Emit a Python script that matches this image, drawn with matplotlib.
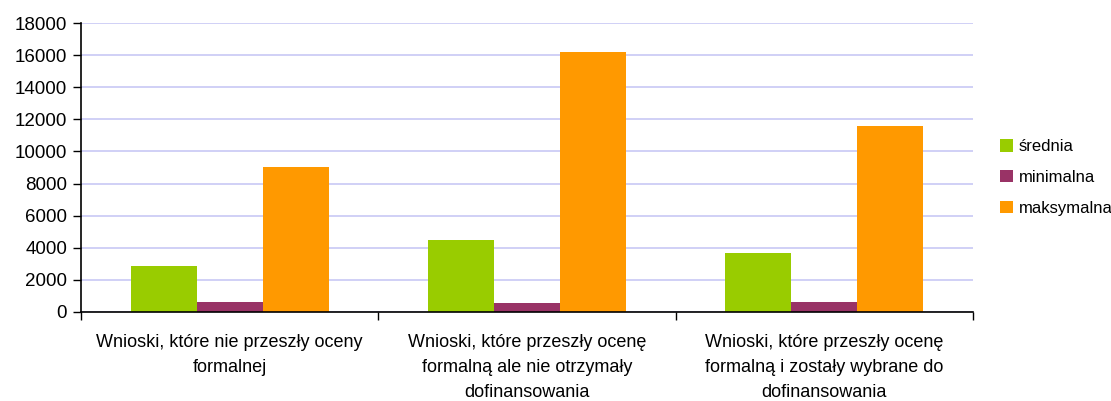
import numpy as np
import matplotlib
matplotlib.use("Agg")
import matplotlib.pyplot as plt

plt.rcParams['font.family'] = ['Liberation Sans', 'DejaVu Sans']

categories = [
    "Wnioski, które nie przeszły oceny\nformalnej",
    "Wnioski, które przeszły ocenę\nformalną ale nie otrzymały\ndofinansowania",
    "Wnioski, które przeszły ocenę\nformalną i zostały wybrane do\ndofinansowania",
]
series_names = ["średnia", "minimalna", "maksymalna"]
srednia = [2860, 4480, 3680]
minimalna = [620, 560, 620]
maksymalna = [9030, 16200, 11590]
colors = ["#99cc00", "#993366", "#ff9900"]

fig = plt.figure(figsize=(11.11, 4.01), dpi=100)
ax = fig.add_axes([0.0729, 0.222, 0.8029, 0.7206])

x = np.arange(len(categories))
w = 0.222
for i, (vals, name, c) in enumerate(zip([srednia, minimalna, maksymalna], series_names, colors)):
    ax.bar(x + (i - 1) * w, vals, width=w, color=c, label=name, zorder=2)

ax.set_xlim(-0.5, len(categories) - 0.5)
ax.set_ylim(0, 18000)
ax.set_yticks(np.arange(0, 18001, 2000))
ax.yaxis.grid(True, color="#d0d0f6", linewidth=1.4, zorder=0)
ax.set_axisbelow(True)

ax.set_xticks(x)
ax.set_xticklabels(categories, fontsize=13, linespacing=1.6)
ax.tick_params(axis='x', length=0, pad=16)
ax.set_xticks(np.arange(-0.5, len(categories)), minor=True)
ax.tick_params(axis='x', which='minor', length=6, width=1, direction='out')
ax.tick_params(axis='y', length=6, width=1, labelsize=13.5, pad=4)

for s in ['top', 'right']:
    ax.spines[s].set_visible(False)
ax.spines['left'].set_linewidth(1.2)
ax.spines['bottom'].set_linewidth(1.2)

leg = fig.legend(loc='upper left', bbox_to_anchor=(0.887, 0.69), frameon=False,
                 fontsize=12, handlelength=0.75, handleheight=0.75, handletextpad=0.35,
                 labelspacing=0.95)

fig.savefig("out.png", dpi=100)
